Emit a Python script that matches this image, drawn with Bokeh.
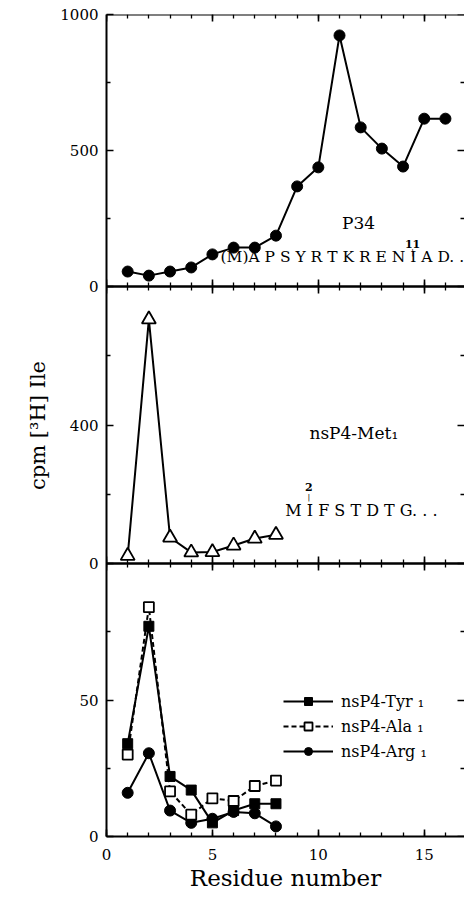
from bokeh.plotting import figure
from bokeh.models import Range1d, LinearAxis, FixedTicker, Label, Legend, LegendItem
from bokeh.embed import file_html
from bokeh.resources import INLINE

# ---------------- data ----------------
residue_p34 = list(range(1, 17))
cpm_p34 = [55, 40, 55, 70, 118, 143, 143, 187, 368, 438, 923, 585, 507, 441, 617, 617]

residue_nsp4 = list(range(1, 9))
cpm_met1 = [22, 705, 75, 32, 33, 52, 72, 83]
cpm_tyr1 = [34, 77, 22, 17, 5, 9.5, 12, 12]
cpm_ala1 = [30, 84, 16.5, 8, 14, 13, 18.5, 20.5]
cpm_arg1 = [16, 30.5, 9.5, 5, 6.5, 9, 8.5, 3.7]

x_major = [0, 5, 10, 15]
x_minor = list(range(0, 17))
top_major = [0, 500, 1000]
top_minor = [250, 750]
mid_major = [0, 400]
mid_minor = [200, 600]
bot_major = [0, 50]
bot_minor = [25, 75]

x_max = 16.9
top_max = 1000
mid_max = 800
bot_max = 100

# ---------------- layout ----------------
FONT = "DejaVu Serif"
FRAME_W = 358
H_TOP, H_MID, H_BOT = 272, 277, 273
H_FRAME = H_TOP + H_MID + H_BOT

top_range = Range1d(-(H_MID + H_BOT) * top_max / H_TOP, top_max)
mid_range = Range1d(-H_BOT * mid_max / H_MID, mid_max * (H_MID + H_TOP) / H_MID)
bot_range = Range1d(0, bot_max * H_FRAME / H_BOT)

p = figure(
    x_range=Range1d(0, x_max), y_range=bot_range,
    frame_width=FRAME_W, frame_height=H_FRAME,
    min_border_left=106, min_border_right=0, min_border_top=14, min_border_bottom=50,
    output_backend="svg", toolbar_location=None, y_axis_type=None,
    background_fill_color="white", border_fill_color="white",
)
p.extra_y_ranges = {"top": top_range, "mid": mid_range}
p.outline_line_color = None
p.grid.visible = False


def style(ax, major_in=7, minor_in=4, labels=True):
    ax.axis_line_width = 2
    ax.axis_line_color = "black"
    ax.major_tick_line_width = 1.6
    ax.minor_tick_line_width = 1.3
    ax.major_tick_in = major_in
    ax.major_tick_out = 0
    ax.minor_tick_in = minor_in
    ax.minor_tick_out = 0
    ax.major_label_text_font = FONT
    ax.major_label_text_font_size = "15px"
    ax.major_label_text_color = "black" if labels else None
    ax.axis_label_text_color = "black"


# main x axis
xa = p.xaxis[0]
xa.ticker = FixedTicker(ticks=x_major, minor_ticks=x_minor)
style(xa)
xa.major_label_standoff = 12
xa.axis_label = "Residue number"
xa.axis_label_text_font = FONT
xa.axis_label_text_font_size = "23px"
xa.axis_label_text_font_style = "normal"
xa.axis_label_standoff = 2

# other horizontal axes (no labels), drawn at the panel edges
h_axes = [
    ("top", top_max, "above"),
    ("top", 0, "below"),
    ("mid", mid_max, "above"),
    ("mid", 0, "below"),
    ("default", bot_max, "above"),
]
for rname, loc, side in h_axes:
    ax = LinearAxis(y_range_name=rname, fixed_location=loc,
                    ticker=FixedTicker(ticks=x_major, minor_ticks=x_minor))
    style(ax, labels=False)
    p.add_layout(ax, side)


# left axis: one axis carrying the three panels' ticks (mapped to the default range)
def to_bot(v, base_px, panel_px, panel_max):
    return round((base_px + v * panel_px / panel_max) * bot_max / H_BOT, 6)


panels = [
    (0, H_BOT, bot_max, bot_major, bot_minor),
    (H_BOT, H_MID, mid_max, mid_major, mid_minor),
    (H_BOT + H_MID, H_TOP, top_max, top_major, top_minor),
]
left_major, left_minor, overrides = [], [], {}
for base, hpx, vmax, maj, mnr in panels:
    for v in maj:
        pos = to_bot(v, base, hpx, vmax)
        left_major.append(pos)
        overrides[pos] = str(v)
    for v in mnr:
        left_minor.append(to_bot(v, base, hpx, vmax))

ya = LinearAxis(ticker=FixedTicker(ticks=left_major, minor_ticks=left_minor),
                major_label_overrides=overrides)
style(ya)
ya.major_label_standoff = 8
ya.axis_label = "cpm [\u00b3H] Ile"
ya.axis_label_text_font = FONT
ya.axis_label_text_font_size = "21px"
ya.axis_label_text_font_style = "normal"
ya.axis_label_standoff = 7
p.add_layout(ya, "left")

# right edge ticks (no labels)
for rname, maj, mnr in [("top", top_major, top_minor), ("mid", mid_major, mid_minor),
                        ("default", bot_major, bot_minor)]:
    axr = LinearAxis(y_range_name=rname, fixed_location=x_max,
                     ticker=FixedTicker(ticks=maj, minor_ticks=mnr))
    style(axr, labels=False)
    axr.axis_line_color = None
    p.add_layout(axr, "right")

# ---------------- series ----------------
LW = 2
p.line(residue_p34, cpm_p34, y_range_name="top", line_width=LW, color="black")
p.scatter(residue_p34, cpm_p34, y_range_name="top", marker="circle", size=11, color="black")

p.line(residue_nsp4, cpm_met1, y_range_name="mid", line_width=LW, color="black")
p.scatter(residue_nsp4, cpm_met1, y_range_name="mid", marker="triangle", size=14,
          fill_color="white", line_color="black", line_width=1.8)

l_ala = p.line(residue_nsp4, cpm_ala1, line_width=LW, color="black", line_dash="5 3")
l_tyr = p.line(residue_nsp4, cpm_tyr1, line_width=LW, color="black")
l_arg = p.line(residue_nsp4, cpm_arg1, line_width=LW, color="black")
s_arg = p.scatter(residue_nsp4, cpm_arg1, marker="circle", size=11, color="black")
s_tyr = p.scatter(residue_nsp4, cpm_tyr1, marker="square", size=10, color="black")
s_ala = p.scatter(residue_nsp4, cpm_ala1, marker="square", size=10,
                  fill_color="white", line_color="black", line_width=1.8)

legend = Legend(items=[
    LegendItem(label="nsP4-Tyr \u2081", renderers=[l_tyr, s_tyr]),
    LegendItem(label="nsP4-Ala \u2081", renderers=[l_ala, s_ala]),
    LegendItem(label="nsP4-Arg \u2081", renderers=[l_arg, s_arg]),
], location=(177, 75))
legend.border_line_color = None
legend.background_fill_alpha = 0
legend.label_text_font = FONT
legend.label_text_font_size = "16px"
legend.label_text_color = "black"
legend.glyph_width = 50
legend.glyph_height = 20
legend.label_height = 20
legend.label_standoff = 8
legend.spacing = 5
legend.padding = 0
legend.margin = 0
p.add_layout(legend)


# ---------------- annotations ----------------
def label(x, y, text, rname, size, align="left", style="normal"):
    lab = Label(x=x, y=y, y_range_name=rname, text=text, text_font=FONT,
                text_font_size=size, text_align=align, text_baseline="middle",
                text_font_style=style, text_color="black")
    p.add_layout(lab)


label(11.9, 232, "P34", "top", "17px", align="center")
label(5.38, 107, "(M)A P S Y R T K R E N I A D. .", "top", "15.5px")
label(14.45, 156, "11", "top", "11px", align="center", style="bold")
label(14.45, 124, "|", "top", "8px", align="center")

label(9.58, 378, "nsP4-Met\u2081", "mid", "17px")
label(8.44, 153, "M I F S T D T G. . .", "mid", "16px")
label(9.55, 221, "2", "mid", "11px", align="center", style="bold")
label(9.55, 191, "|", "mid", "8px", align="center")

open("out.html", "w").write(file_html(p, INLINE))
